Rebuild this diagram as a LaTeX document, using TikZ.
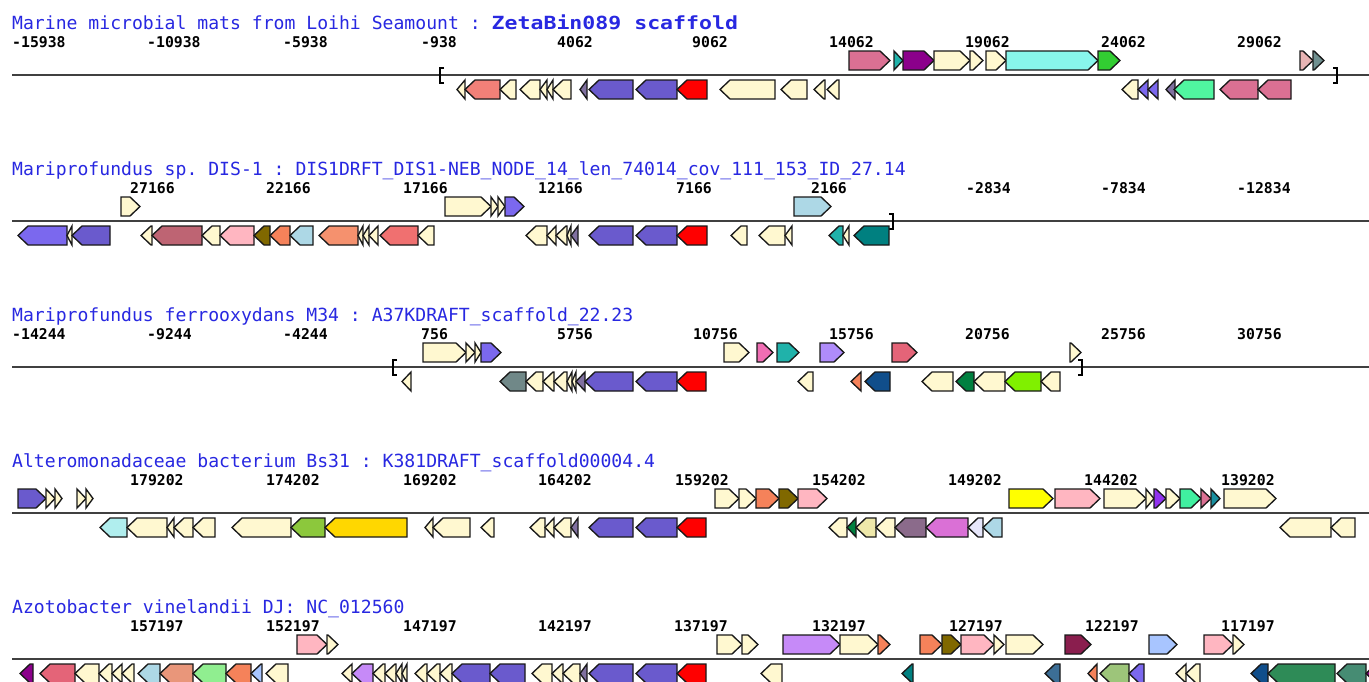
\documentclass[tikz,border=0pt]{standalone}
\usepackage{fontspec}
\setmonofont{DejaVu Sans Mono}
\usepackage{graphicx}
\usepackage{tikz}
\usepackage{xcolor}
\definecolor{titleblue}{RGB}{40,40,225}
\definecolor{cream}{RGB}{255,248,208}
\definecolor{slate}{RGB}{106,90,205}
\definecolor{mslate}{RGB}{123,104,238}
\definecolor{genered}{RGB}{255,0,0}
\definecolor{pgrey}{RGB}{128,112,160}
\definecolor{salmonA}{RGB}{242,128,120}
\definecolor{roseA}{RGB}{219,112,147}
\definecolor{roseB}{RGB}{228,100,120}
\definecolor{ltseagreen}{RGB}{32,178,170}
\definecolor{dmagenta}{RGB}{139,0,139}
\definecolor{cyanA}{RGB}{136,245,235}
\definecolor{lgreen}{RGB}{50,205,50}
\definecolor{rosybr}{RGB}{232,180,180}
\definecolor{greyteal}{RGB}{112,144,144}
\definecolor{sgreen}{RGB}{80,245,160}
\definecolor{sgreenB}{RGB}{64,240,160}
\definecolor{ltblue}{RGB}{173,216,230}
\definecolor{indred}{RGB}{190,100,115}
\definecolor{lpink}{RGB}{255,182,193}
\definecolor{olive}{RGB}{128,104,0}
\definecolor{coral}{RGB}{245,130,90}
\definecolor{lsalmon}{RGB}{245,145,110}
\definecolor{lcoral}{RGB}{240,112,112}
\definecolor{dteal}{RGB}{0,128,128}
\definecolor{hotpink}{RGB}{240,110,180}
\definecolor{lpurple}{RGB}{175,140,250}
\definecolor{lavpurple}{RGB}{198,138,248}
\definecolor{slgrey}{RGB}{112,136,136}
\definecolor{dblue}{RGB}{16,78,139}
\definecolor{dgreen}{RGB}{0,128,64}
\definecolor{lawn}{RGB}{128,240,0}
\definecolor{pturq}{RGB}{176,238,238}
\definecolor{ygreen}{RGB}{140,200,60}
\definecolor{gold}{RGB}{255,215,0}
\definecolor{yel}{RGB}{255,255,0}
\definecolor{bviolet}{RGB}{145,50,240}
\definecolor{tealB}{RGB}{26,143,159}
\definecolor{palegold}{RGB}{238,232,170}
\definecolor{gpurple}{RGB}{139,107,139}
\definecolor{orchid}{RGB}{218,112,214}
\definecolor{lavender}{RGB}{230,230,250}
\definecolor{maroon}{RGB}{138,30,78}
\definecolor{lsteel}{RGB}{168,197,255}
\definecolor{dsalmon}{RGB}{233,150,122}
\definecolor{lgreenB}{RGB}{144,238,144}
\definecolor{steel}{RGB}{60,110,150}
\definecolor{dseagreen}{RGB}{157,197,122}
\definecolor{seagreen}{RGB}{46,139,87}
\definecolor{seagreenB}{RGB}{70,140,115}

\tikzset{
  gene/.style={draw=black!90, line width=1.35pt, line join=miter},
  track/.style={draw=black!75, line width=1.8pt},
  brk/.style={draw=black, line width=1.3pt},
  title/.style={anchor=base west, inner sep=0pt, text=titleblue,
    font=\ttfamily\fontsize{18.1}{18.1}\selectfont},
  coord/.style={anchor=base west, inner sep=0pt,
    font=\ttfamily\bfseries\fontsize{14.8}{14.8}\selectfont},
}

% gene arrows, #1 start, #2 end, #3 colour; \ly is the track line
\newcommand{\fwdgene}[3]{%
  \pgfmathsetmacro{\hd}{min(10,#2-#1)}%
  \draw[gene,fill=#3] (#1,\ly-24) -- ({#2-\hd},\ly-24) -- (#2,\ly-14.5)
    -- ({#2-\hd},\ly-5) -- (#1,\ly-5) -- cycle;}
\newcommand{\revgene}[3]{%
  \pgfmathsetmacro{\hd}{min(10,#2-#1)}%
  \draw[gene,fill=#3] (#2,\ly+5) -- ({#1+\hd},\ly+5) -- (#1,\ly+14.5)
    -- ({#1+\hd},\ly+24) -- (#2,\ly+24) -- cycle;}
\newcommand{\lbrk}[1]{\draw[brk] (#1+4,\ly-7) -- (#1,\ly-7) -- (#1,\ly+8) -- (#1+4,\ly+8);}
\newcommand{\rbrk}[1]{\draw[brk] (#1-4,\ly-7) -- (#1,\ly-7) -- (#1,\ly+8) -- (#1-4,\ly+8);}

\begin{document}
\begin{tikzpicture}[x=1pt,y=-1pt]
\fill[white] (0,0) rectangle (1369,681);
\useasboundingbox (0,0) rectangle (1369,681);

% track 1
\def\ly{75}
\node[title] (t1) at (12,\ly-46) {Marine microbial mats from Loihi Seamount : \scalebox{1.19}[1]{\bfseries ZetaBin089 scaffold}};
\foreach \x/\v [count=\i] in {12/-15938,147/-10938,283/-5938,421/-938,557/4062,
  692/9062,829/14062,965/19062,1101/24062,1237/29062}
  \node[coord] (a\i) at (\x,\ly-28) {\v};
\draw[track] (12,\ly) -- (1369,\ly);
\lbrk{440} \rbrk{1337}
\foreach \a/\b/\c in {849/890/roseA,894/903/ltseagreen,903/934/dmagenta,934/970/cream,
  970/983/cream,986/1006/cream,1006/1098/cyanA,1098/1120/lgreen,1300/1313/rosybr,1313/1324/greyteal}
  {\fwdgene{\a}{\b}{\c}}
\foreach \a/\b/\c in {457/465/cream,465/500/salmonA,500/516/cream,520/540/cream,540/547/cream,
  547/553/cream,553/571/cream,580/587/pgrey,589/633/slate,636/677/slate,677/707/genered,
  720/775/cream,781/807/cream,814/825/cream,827/839/cream,1122/1138/cream,1138/1148/mslate,
  1148/1158/mslate,1166/1175/pgrey,1174/1214/sgreen,1220/1258/roseA,1258/1291/roseA}
  {\revgene{\a}{\b}{\c}}

% track 2
\def\ly{221}
\node[title] (t2) at (12,\ly-46) {Mariprofundus sp. DIS-1 : DIS1DRFT\_DIS1-NEB\_NODE\_14\_len\_74014\_cov\_111\_153\_ID\_27.14};
\foreach \x/\v [count=\i] in {130/27166,266/22166,403/17166,538/12166,676/7166,
  811/2166,966/-2834,1101/-7834,1237/-12834}
  \node[coord] (b\i) at (\x,\ly-28) {\v};
\draw[track] (12,\ly) -- (1369,\ly);
\rbrk{893}
\foreach \a/\b/\c in {121/140/cream,445/491/cream,491/498/cream,498/505/cream,505/524/mslate,
  794/831/ltblue}
  {\fwdgene{\a}{\b}{\c}}
\foreach \a/\b/\c in {18/67/mslate,67/72/cream,72/110/slate,141/152/cream,152/202/indred,
  202/220/cream,220/254/lpink,254/270/olive,270/290/coral,290/313/ltblue,319/358/lsalmon,
  358/363/cream,363/369/cream,369/378/cream,380/418/lcoral,418/434/cream,526/547/cream,
  547/556/cream,556/567/cream,567/571/cream,571/578/pgrey,589/633/slate,636/677/slate,
  677/707/genered,731/747/cream,759/785/cream,785/792/cream,829/843/ltseagreen,843/849/cream,
  854/889/dteal}
  {\revgene{\a}{\b}{\c}}

% track 3
\def\ly{367}
\node[title] (t3) at (12,\ly-46) {Mariprofundus ferrooxydans M34 : A37KDRAFT\_scaffold\_22.23};
\foreach \x/\v [count=\i] in {12/-14244,147/-9244,283/-4244,421/756,557/5756,
  693/10756,829/15756,965/20756,1101/25756,1237/30756}
  \node[coord] (c\i) at (\x,\ly-28) {\v};
\draw[track] (12,\ly) -- (1369,\ly);
\lbrk{393} \rbrk{1082}
\foreach \a/\b/\c in {423/466/cream,466/475/cream,475/481/cream,481/501/mslate,724/749/cream,
  757/773/hotpink,777/799/ltseagreen,820/844/lpurple,892/917/roseB,1070/1081/cream}
  {\fwdgene{\a}{\b}{\c}}
\foreach \a/\b/\c in {402/411/cream,500/526/slgrey,526/543/cream,543/554/cream,554/567/cream,
  567/572/cream,572/576/cream,576/585/pgrey,585/633/slate,636/677/slate,677/706/genered,
  798/813/cream,851/861/coral,865/890/dblue,922/953/cream,956/974/dgreen,974/1005/cream,
  1005/1041/lawn,1041/1060/cream}
  {\revgene{\a}{\b}{\c}}

% track 4
\def\ly{513}
\node[title] (t4) at (12,\ly-46) {Alteromonadaceae bacterium Bs31 : K381DRAFT\_scaffold00004.4};
\foreach \x/\v [count=\i] in {130/179202,266/174202,403/169202,538/164202,675/159202,
  812/154202,948/149202,1084/144202,1221/139202}
  \node[coord] (d\i) at (\x,\ly-28) {\v};
\draw[track] (12,\ly) -- (1369,\ly);
\foreach \a/\b/\c in {18/46/slate,46/55/cream,55/62/cream,77/86/cream,86/93/cream,
  715/739/cream,739/756/cream,756/779/coral,779/798/olive,798/827/lpink,1009/1053/yel,
  1055/1100/lpink,1104/1146/cream,1146/1154/cream,1154/1166/bviolet,1166/1180/cream,
  1180/1201/sgreenB,1201/1211/roseA,1211/1220/tealB,1224/1276/cream}
  {\fwdgene{\a}{\b}{\c}}
\foreach \a/\b/\c in {100/127/pturq,127/167/cream,167/174/cream,174/193/cream,193/215/cream,
  232/291/cream,291/325/ygreen,325/407/gold,425/433/cream,433/470/cream,481/494/cream,
  530/545/cream,545/554/cream,554/571/cream,571/578/pgrey,589/633/slate,636/677/slate,
  677/706/genered,829/847/cream,847/856/dgreen,856/876/palegold,876/895/cream,895/926/gpurple,
  926/968/orchid,968/983/lavender,983/1002/ltblue,1280/1331/cream,1331/1355/cream}
  {\revgene{\a}{\b}{\c}}

% track 5
\def\ly{659}
\node[title] (t5) at (12,\ly-46) {Azotobacter vinelandii DJ: NC\_012560};
\foreach \x/\v [count=\i] in {130/157197,266/152197,403/147197,538/142197,674/137197,
  812/132197,949/127197,1085/122197,1221/117197}
  \node[coord] (e\i) at (\x,\ly-28) {\v};
\draw[track] (12,\ly) -- (1369,\ly);
\foreach \a/\b/\c in {297/327/lpink,327/338/cream,717/742/cream,742/758/cream,783/840/lavpurple,
  840/878/cream,878/890/coral,920/942/coral,942/961/olive,961/994/lpink,994/1004/cream,
  1006/1043/cream,1065/1091/maroon,1149/1177/lsteel,1204/1233/lpink,1233/1244/cream}
  {\fwdgene{\a}{\b}{\c}}
\foreach \a/\b/\c in {20/33/dmagenta,40/75/roseB,75/99/cream,99/112/cream,112/122/cream,
  122/134/cream,138/160/ltblue,160/193/dsalmon,193/226/lgreenB,226/251/coral,251/262/lsteel,
  266/288/cream,342/352/cream,352/373/lavpurple,373/385/cream,385/396/cream,396/402/cream,
  402/407/cream,415/427/cream,427/440/cream,440/452/cream,452/490/slate,490/525/slate,
  532/552/cream,552/563/cream,563/580/cream,580/587/pgrey,589/633/slate,636/677/slate,
  677/706/genered,761/782/cream,902/913/dteal,1045/1060/steel,1088/1097/coral,
  1100/1129/dseagreen,1129/1144/mslate,1176/1186/cream,1186/1200/cream,1251/1268/dblue,
  1268/1335/seagreen,1337/1366/seagreenB,1366/1378/dmagenta}
  {\revgene{\a}{\b}{\c}}
\end{tikzpicture}
\end{document}
